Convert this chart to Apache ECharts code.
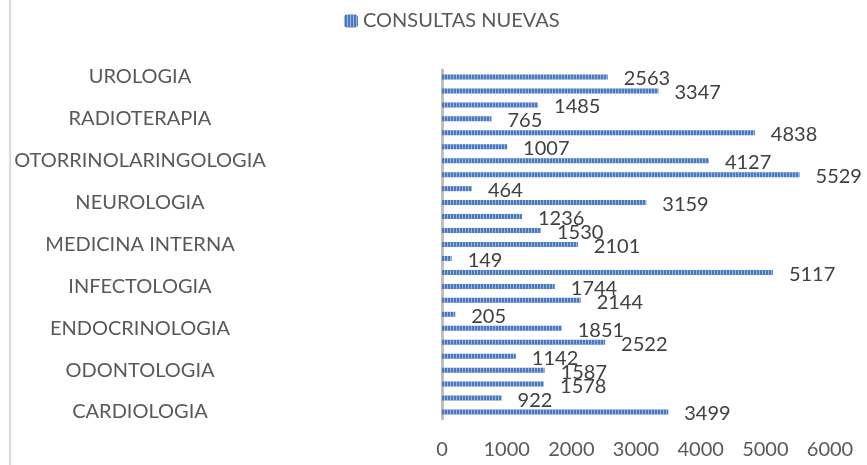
<!DOCTYPE html>
<html>
<head>
<meta charset="utf-8">
<script src="https://cdn.jsdelivr.net/npm/echarts@6/dist/echarts.min.js"></script>
<style>
html,body{margin:0;padding:0;background:#fff;}
#chart{width:867px;height:465px;}
</style>
</head>
<body>
<div id="chart"></div>
<script>
// Categories from bottom to top
const categories = [
  'CARDIOLOGIA', 'CIRUGIA GENERAL', 'DERMATOLOGIA',
  'ODONTOLOGIA', 'GASTROENTEROLOGIA', 'GINECOLOGIA',
  'ENDOCRINOLOGIA', 'HEMATOLOGIA', 'HEPATOLOGIA',
  'INFECTOLOGIA', 'MEDICINA FISICA', 'MEDICINA GENERAL',
  'MEDICINA INTERNA', 'NEFROLOGIA', 'NEUMOLOGIA',
  'NEUROLOGIA', 'NEUROCIRUGIA', 'OFTALMOLOGIA',
  'OTORRINOLARINGOLOGIA', 'PEDIATRIA', 'PSIQUIATRIA',
  'RADIOTERAPIA', 'REUMATOLOGIA', 'TRAUMATOLOGIA',
  'UROLOGIA'
];
const consultasNuevas = [
  3499, 922, 1578, 1587, 1142, 2522, 1851, 205, 2144, 1744, 5117, 149,
  2101, 1530, 1236, 3159, 464, 5529, 4127, 1007, 4838, 765, 1485, 3347, 2563
];
const seriesName = 'CONSULTAS NUEVAS';
const xTicks = [0, 1000, 2000, 3000, 4000, 5000, 6000];

const font = 'Lato, "Open Sans", sans-serif';
const chart = echarts.init(document.getElementById('chart'), null, {renderer: 'canvas'});
chart.setOption({
  animation: false,
  backgroundColor: '#ffffff',
  textStyle: {fontFamily: font},
  graphic: [{
    type: 'rect', z: 100,
    shape: {x: 0, y: 0, width: 9, height: 465},
    style: {fill: '#ffffff'}
  }, {
    type: 'line', z: 101,
    shape: {x1: 10, y1: 0, x2: 10, y2: 465},
    style: {stroke: '#d9d9d9', lineWidth: 2}
  }],
  legend: {
    left: 339, top: 6,
    itemWidth: 14, itemHeight: 13, itemGap: 8,
    textStyle: {fontSize: 20, color: '#595959', fontFamily: font},
    data: [seriesName]
  },
  grid: {left: 442, right: 37, top: 70, bottom: 46, containLabel: false},
  xAxis: {
    type: 'value',
    min: xTicks[0], max: xTicks[xTicks.length - 1], interval: 1000,
    axisLine: {show: false},
    axisTick: {show: false},
    splitLine: {show: false},
    axisLabel: {fontSize: 20, color: '#595959', margin: 21, fontFamily: font,
      formatter: function (v) { return String(v); }}
  },
  yAxis: {
    type: 'category',
    data: categories,
    axisLine: {show: true, lineStyle: {color: '#bfbfbf', width: 3}},
    axisTick: {show: false},
    axisLabel: {interval: 2, align: 'center', margin: 302, fontSize: 20, color: '#595959', fontFamily: font}
  },
  series: [{
    name: seriesName,
    type: 'bar',
    data: consultasNuevas,
    barWidth: 5,
    itemStyle: {
      color: '#4a78c2',
      decal: {
        symbol: 'rect', symbolSize: 1, color: 'rgba(255,255,255,0.45)',
        dashArrayX: [1, 2], dashArrayY: [2, 0], rotation: 0
      }
    },
    label: {
      show: true, position: 'right', distance: 16, offset: [0, 2],
      fontSize: 20, color: '#404040', fontFamily: font
    }
  }]
});
</script>
</body>
</html>
